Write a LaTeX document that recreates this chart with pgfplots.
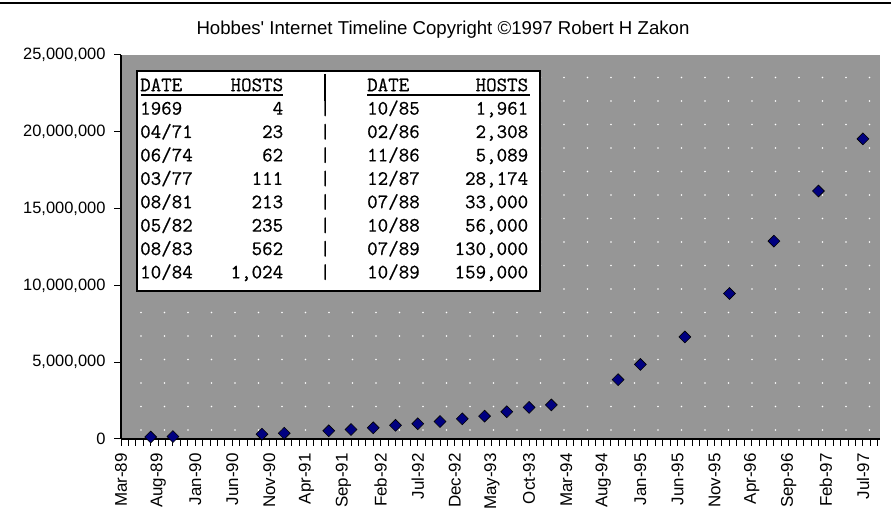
\documentclass[border=0pt]{standalone}
\usepackage{fontspec}
\setmainfont{Liberation Sans}
\newfontfamily\tabfont[FakeBold=0.6]{Latin Modern Mono}
\usepackage{pgfplots}
\usepackage{pgfplotstable}
\pgfplotsset{compat=1.18}
\usetikzlibrary{patterns}
\pgfdeclarepatternformonly{whitedots}{\pgfqpoint{-1bp}{-1bp}}{\pgfqpoint{1bp}{1bp}}{\pgfqpoint{23.5bp}{23.5bp}}{\pgfpathcircle{\pgfpointorigin}{0.9bp}\pgfusepath{fill}}
\definecolor{navy}{RGB}{0,0,128}
\definecolor{bggray}{gray}{0.59}

\pgfplotstableread{
m hosts
4 130000
7 159000
19 313000
22 376000
28 535000
31 617000
34 727000
37 890000
40 992000
43 1136000
46 1313000
49 1486000
52 1776000
55 2056000
58 2217000
67 3864000
70 4852000
76 6642000
82 9472000
88 12881000
94 16146000
100 19540000
}\hoststable

\newcommand\trow[5]{\node[anchor=base west, inner sep=0pt, font=\tabfont\fontsize{20.5}{22}\selectfont] at (140,{432.8-23.4*#1}) {\makebox[85bp][l]{#2}\makebox[58bp][r]{#3}\makebox[84bp]{|}\makebox[85bp][l]{#4}\makebox[76bp][r]{#5}};}

\begin{document}
\begin{tikzpicture}[x=1bp,y=1bp]
\useasboundingbox (0,0) rectangle (891,524);
\fill[white] (0,0) rectangle (891,524);
\draw[line width=2.5bp] (0,521) -- (891,521);
\node[font=\fontsize{18.7}{22}\selectfont] at (443,494) {Hobbes\textquotesingle\ Internet Timeline Copyright ©1997 Robert H Zakon};
\begin{axis}[
  at={(121bp,85bp)}, anchor=south west,
  scale only axis, width=759bp, height=384bp,
  xmin=0, xmax=102.3, ymin=0, ymax=25000000,
  axis x line*=bottom, axis y line*=left,
  axis line style={black, line width=1.2bp},
  tick align=outside,
  xtick={0,5,...,100},
  xticklabels={Mar-89,Aug-89,Jan-90,Jun-90,Nov-90,Apr-91,Sep-91,Feb-92,Jul-92,Dec-92,May-93,Oct-93,Mar-94,Aug-94,Jan-95,Jun-95,Nov-95,Apr-96,Sep-96,Feb-97,Jul-97},
  minor xtick={0,1,...,102},
  major tick length=7bp, minor tick length=7bp,
  tick style={black, line width=1bp},
  ytick={0,5000000,10000000,15000000,20000000,25000000},
  scaled y ticks=false,
  yticklabel style={/pgf/number format/fixed, /pgf/number format/precision=0, /pgf/number format/1000 sep={,}, /pgf/number format/assume math mode=true, font=\fontsize{16.5}{20}\selectfont, xshift=-5bp},
  xticklabel style={rotate=90, anchor=east, outer xsep=4bp, font=\fontsize{17}{20}\selectfont},
  axis background/.style={fill=bggray, postaction={pattern=whitedots, pattern color=white}},
  clip=false,
]
\addplot[only marks, mark=square*, mark size=4.2bp, mark options={rotate=45, fill=navy, draw=black, line width=0.6bp}] table[x=m,y=hosts]{\hoststable};
\end{axis}
\draw[line width=2bp, fill=white] (137,233) rectangle (540,453);
\node[anchor=base west, inner sep=0pt, font=\tabfont\fontsize{20.5}{22}\selectfont] at (140,432.8) {\makebox[85bp][l]{DATE}\makebox[58bp][r]{HOSTS}\makebox[84bp]{}\makebox[85bp][l]{DATE}\makebox[76bp][r]{HOSTS}};
\draw[line width=1.2bp] (141,429) -- (283,429);
\draw[line width=1.2bp] (367,429) -- (530,429);
\draw[line width=1.2bp] (325,450) -- (325,423);
\trow{1}{1969}{4}{10/85}{1,961}
\trow{2}{04/71}{23}{02/86}{2,308}
\trow{3}{06/74}{62}{11/86}{5,089}
\trow{4}{03/77}{111}{12/87}{28,174}
\trow{5}{08/81}{213}{07/88}{33,000}
\trow{6}{05/82}{235}{10/88}{56,000}
\trow{7}{08/83}{562}{07/89}{130,000}
\trow{8}{10/84}{1,024}{10/89}{159,000}
\end{tikzpicture}
\end{document}
